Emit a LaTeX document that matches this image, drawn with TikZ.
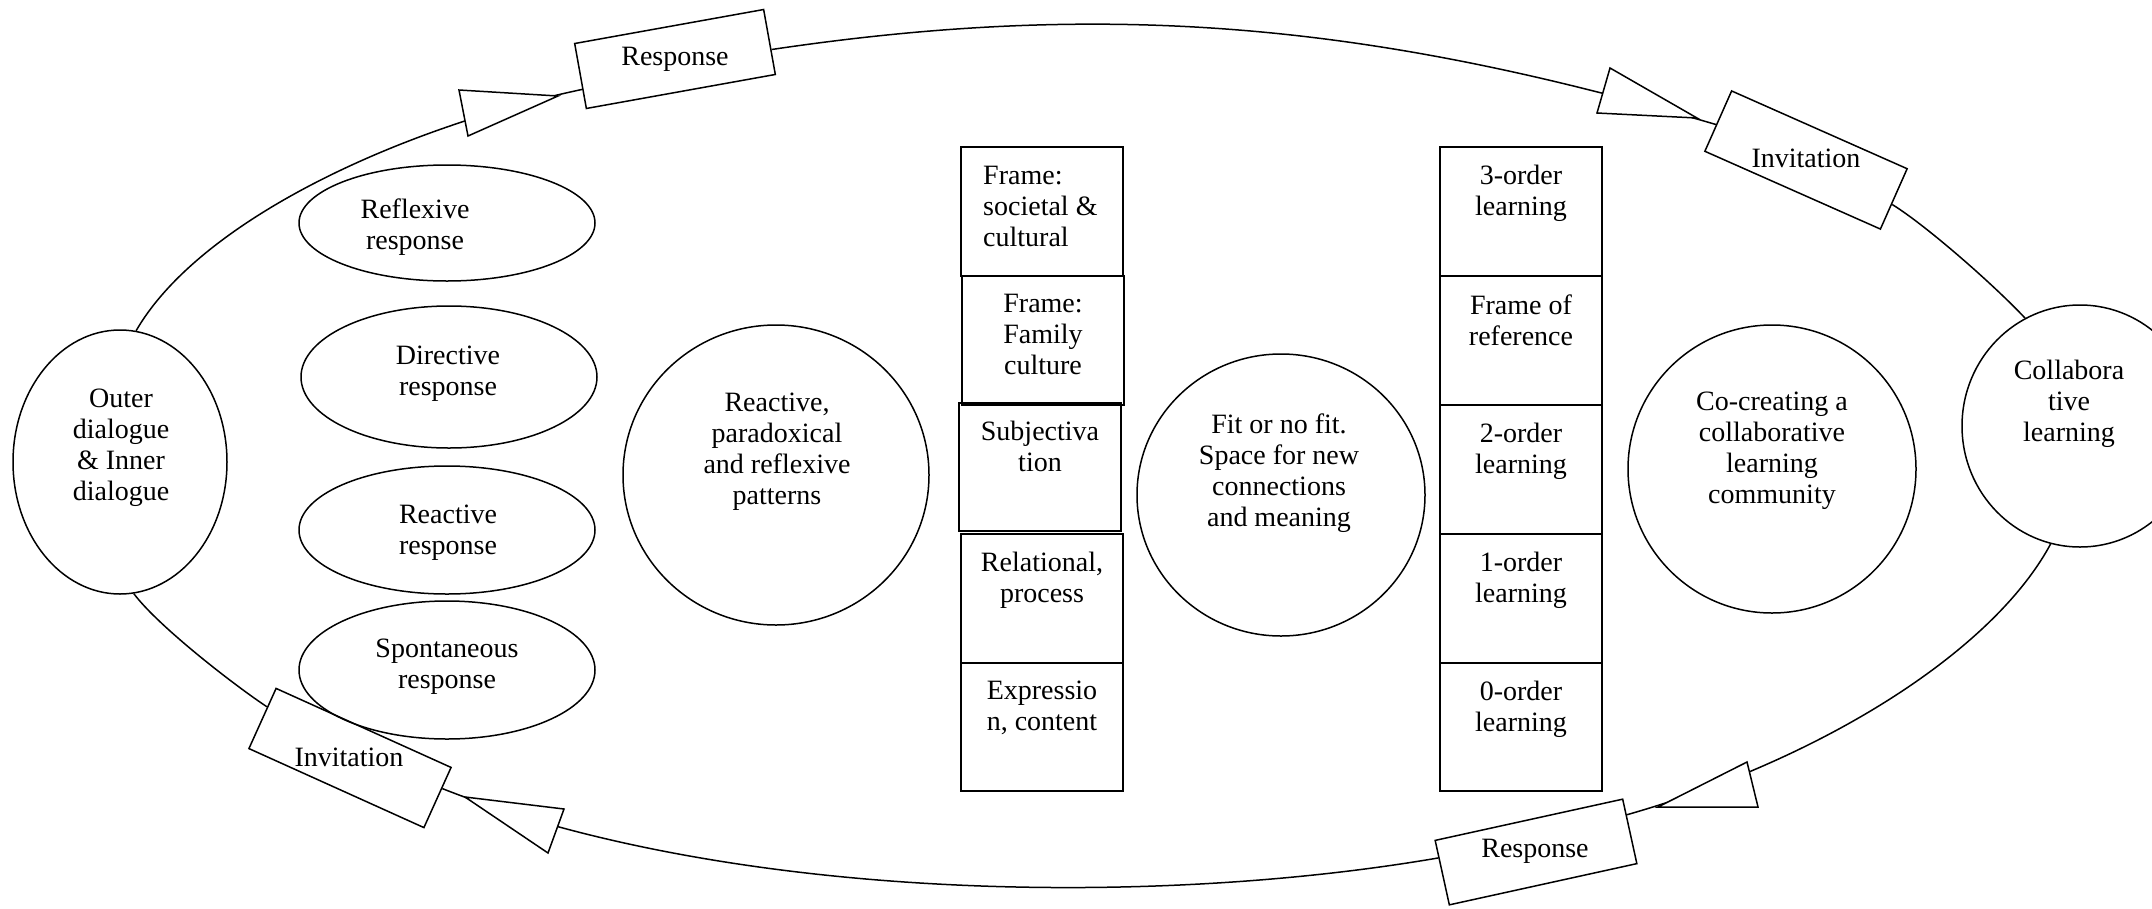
\documentclass[tikz,border=0pt]{standalone}
\usepackage{fontspec}
\setmainfont{Liberation Serif}
\usetikzlibrary{shapes.geometric,calc}
\begin{document}
\begin{tikzpicture}[x=1pt,y=-1pt,
  shapeE/.style={draw, ellipse, inner sep=0pt, line width=1.5pt},
  rbox/.style={draw, rectangle, minimum width=192pt, minimum height=66pt, inner sep=0pt, line width=1.5pt},
  cell/.style={draw, rectangle, minimum width=162pt, minimum height=129pt, inner sep=0pt, line width=1.8pt},
  txt/.style={font=\fontsize{28}{31}\selectfont, align=center, inner sep=0pt, yshift=-4pt},
  link/.style={line width=1.5pt},
  head/.style={draw, fill=white, line width=1.5pt, line join=miter}]
\useasboundingbox (0,0) rectangle (2152,908);

% ellipses and circles
\node[shapeE, minimum width=214pt, minimum height=264pt] (outer) at (120,462) {};
\node[shapeE, minimum width=296pt, minimum height=116pt] (refl) at (447,223) {};
\node[shapeE, minimum width=296pt, minimum height=142pt] (direc) at (449,377) {};
\node[shapeE, minimum width=296pt, minimum height=128pt] (react) at (447,530) {};
\node[shapeE, minimum width=296pt, minimum height=138pt] (spont) at (447,670) {};
\node[shapeE, minimum width=306pt, minimum height=300pt] (pat) at (776,475) {};
\node[shapeE, minimum width=288pt, minimum height=282pt] (fit) at (1281,495) {};
\node[shapeE, minimum width=288pt, minimum height=288pt] (coc) at (1772,469) {};
\node[shapeE, minimum width=236pt, minimum height=242pt] (coll) at (2080,426) {};

% rotated boxes on the loop
\node[rbox, rotate=10.2] (r1) at (675,59) {};
\node[rbox, rotate=-23.9] (i1) at (1806,160) {};
\node[rbox, rotate=12.4] (r2) at (1536,852) {};
\node[rbox, rotate=-24.3] (i2) at (350,758) {};

% loop connectors
\draw[link] (outer.83) .. controls (200,220) and (400,128) .. ($(r1.west)!0.4!(r1.south west)$);
\draw[link] ($(r1.east)!0.23!(r1.south east)$) .. controls (1118,-2) and (1380,26) .. ($(i1.west)!0.12!(i1.south west)$);
\draw[link] ($(i1.east)!0.17!(i1.south east)$) .. controls (1927,226) and (1995,286) .. (coll.117);
\draw[link] (coll.-104) .. controls (1992,653) and (1819,760) .. ($(r2.east)!0.5!(r2.north east)$);
\draw[link] ($(r2.west)!0.45!(r2.north west)$) .. controls (1141,909) and (722,899) .. ($(i2.east)!0.3!(i2.north east)$);
\draw[link] ($(i2.west)!0.37!(i2.north west)$) .. controls (234,685) and (158,626) .. (outer.-84);

% open arrowheads
\draw[head] (459,90) -- (468,136) -- (558,96) -- cycle;
\draw[head] (1610,68) -- (1597,113) -- (1697,118) -- cycle;
\draw[head] (1747,762) -- (1758,807) -- (1658,807) -- cycle;
\draw[head] (465,797) -- (564,809) -- (548,853) -- cycle;

% left column
\node[cell] (lc1) at (1042,211.5) {};
\node[cell] (lc2) at (1043,340.5) {};
\node[cell, minimum height=128pt] (lc3) at (1040,467) {};
\node[cell] (lc4) at (1042,598.5) {};
\node[cell, minimum height=128pt] (lc5) at (1042,727) {};
% right column
\node[cell] (rc1) at (1521,211.5) {};
\node[cell] (rc2) at (1521,340.5) {};
\node[cell] (rc3) at (1521,469.5) {};
\node[cell] (rc4) at (1521,598.5) {};
\node[cell, minimum height=128pt] (rc5) at (1521,727) {};

% texts
\node[txt] (outerT) at (121,444) {Outer\\dialogue\\\& Inner\\dialogue};
\node[txt] (reflT) at (415,223) {Reflexive\\response};
\node[txt] (direcT) at (448,370) {Directive\\response};
\node[txt] (reactT) at (448,529) {Reactive\\response};
\node[txt] (spontT) at (447,663) {Spontaneous\\response};
\node[txt] (patT) at (777,448) {Reactive,\\paradoxical\\and reflexive\\patterns};
\node[txt] (fitT) at (1279,469) {Fit or no fit.\\Space for new\\connections\\and meaning};
\node[txt] (cocT) at (1772,447) {Co-creating a\\collaborative\\learning\\community};
\node[txt] (collT) at (2069,400) {Collabora\\tive\\learning};

\node[txt] (r1T) at (675,55) {Response};
\node[txt] (i1T) at (1806,154) {Invitation};
\node[txt] (r2T) at (1535,847) {Response};
\node[txt] (i2T) at (349,753) {Invitation};

\node[txt, align=left, anchor=north west] (lc1T) at (983,162) {Frame:\\societal \&\\cultural};
\node[txt, anchor=north] (lc2T) at ($(lc2.north)+(0,15)$) {Frame:\\Family\\culture};
\node[txt, anchor=north] (lc3T) at ($(lc3.north)+(0,15)$) {Subjectiva\\tion};
\node[txt, anchor=north] (lc4T) at ($(lc4.north)+(0,15)$) {Relational,\\process};
\node[txt, anchor=north] (lc5T) at ($(lc5.north)+(0,15)$) {Expressio\\n, content};

\node[txt, anchor=north] (rc1T) at ($(rc1.north)+(0,15)$) {3-order\\learning};
\node[txt, anchor=north] (rc2T) at ($(rc2.north)+(0,15)$) {Frame of\\reference};
\node[txt, anchor=north] (rc3T) at ($(rc3.north)+(0,15)$) {2-order\\learning};
\node[txt, anchor=north] (rc4T) at ($(rc4.north)+(0,15)$) {1-order\\learning};
\node[txt, anchor=north] (rc5T) at ($(rc5.north)+(0,15)$) {0-order\\learning};
\end{tikzpicture}
\end{document}
